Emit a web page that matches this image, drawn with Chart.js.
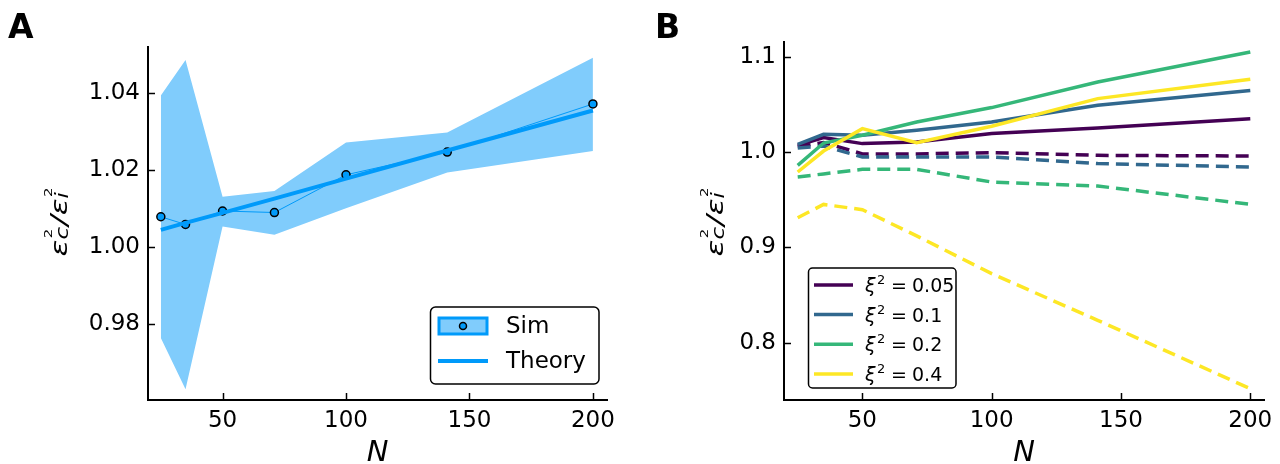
<!DOCTYPE html>
<html><head><meta charset="utf-8">
<script src="https://cdn.jsdelivr.net/npm/chart.js@4/dist/chart.umd.min.js"></script>
<style>
html,body{margin:0;padding:0;background:#fff;}
#wrap{position:relative;width:1280px;height:464px;overflow:hidden;}
canvas{position:absolute;top:0;}
</style></head><body>
<div id="wrap"><canvas id="cA" width="640" height="464" style="left:0"></canvas><canvas id="cB" width="640" height="464" style="left:640px"></canvas></div>
<script>
// ---------- DATA ----------
const N = [25, 35, 50, 71, 100, 141, 200];
const xTicks = [50, 100, 150, 200];
// Panel A
const simMean  = [1.0079, 1.0059, 1.0094, 1.0090, 1.0188, 1.0247, 1.0372];
const simUpper = [1.0394, 1.0486, 1.0131, 1.0146, 1.0272, 1.0298, 1.0492];
const simLower = [0.9764, 0.9631, 1.0054, 1.0032, 1.0101, 1.0194, 1.0250];
const theory   = [1.0045, 1.0063, 1.0089, 1.0126, 1.0178, 1.0251, 1.0355];
const yTicksA = [0.98, 1.00, 1.02, 1.04];
const legendA = ['Sim', 'Theory'];
// Panel B
const xi2Labels = ['0.05', '0.1', '0.2', '0.4'];
const solid005 = [1.0070, 1.0151, 1.0088, 1.0105, 1.0193, 1.0252, 1.0350];
const solid01  = [1.0081, 1.0186, 1.0175, 1.0228, 1.0315, 1.0490, 1.0644];
const solid02  = [0.9860, 1.0094, 1.0175, 1.0315, 1.0466, 1.0735, 1.1049];
const solid04  = [0.9790, 1.0010, 1.0245, 1.0098, 1.0270, 1.0560, 1.0763];
const dash005  = [1.0055, 1.0100, 0.9980, 0.9980, 0.9993, 0.9965, 0.9958];
const dash01   = [1.0042, 1.0063, 0.9948, 0.9948, 0.9948, 0.9878, 0.9843];
const dash02   = [0.9738, 0.9770, 0.9818, 0.9818, 0.9685, 0.9643, 0.9451];
const dash04   = [0.9310, 0.9450, 0.9395, 0.9120, 0.8724, 0.8234, 0.7517];
const yTicksB = [0.8, 0.9, 1.0, 1.1];

// ---------- STYLE ----------
const BLUE = '#009AFA', BAND = '#80CCFC';
const VIR = ['#440154', '#31688E', '#35B779', '#FDE725'];
const FONT = '"DejaVu Sans", Verdana, sans-serif';

const pts = arr => N.map((x, i) => ({x, y: arr[i]}));

function xScale(min, max) {
  return {
    type: 'linear', min, max,
    afterBuildTicks: s => { s.ticks = xTicks.map(v => ({value: v})); },
    afterFit: s => { s.height = 64; },
    grid: {display: true, drawOnChartArea: false, drawTicks: false},
    border: {display: true, color: '#000', width: 2},
    ticks: {color: '#000', font: {family: FONT, size: 23}, padding: 7, maxRotation: 0, autoSkip: false,
            callback: v => String(v)}
  };
}
function yScale(min, max, ticks, dec, width) {
  return {
    type: 'linear', min, max,
    afterBuildTicks: s => { s.ticks = ticks.map(v => ({value: v})); },
    afterFit: s => { s.width = width; },
    grid: {display: true, drawOnChartArea: false, drawTicks: false},
    border: {display: true, color: '#000', width: 2},
    ticks: {color: '#000', font: {family: FONT, size: 23}, padding: 8, autoSkip: false,
            callback: v => Number(v).toFixed(dec)}
  };
}

function drawInwardTicks(chart) {
  const ctx = chart.ctx, a = chart.chartArea;
  ctx.save(); ctx.strokeStyle = '#000'; ctx.lineWidth = 1.5;
  const xs = chart.scales.x, ys = chart.scales.y;
  xs.ticks.forEach(t => { const p = Math.round(xs.getPixelForValue(t.value)) + 0.5;
    ctx.beginPath(); ctx.moveTo(p, a.bottom); ctx.lineTo(p, a.bottom - 7); ctx.stroke(); });
  ys.ticks.forEach(t => { const p = Math.round(ys.getPixelForValue(t.value)) + 0.5;
    ctx.beginPath(); ctx.moveTo(a.left, p); ctx.lineTo(a.left + 7, p); ctx.stroke(); });
  ctx.restore();
}

function drawYLabel(ctx, cx, cy) {
  const big = 'italic 23px ' + FONT, sub = 'italic 17px ' + FONT, sup = '11px ' + FONT;
  const SX = 1.35;
  const parts = [{t: 'ε'}, {s: 'c', p: '2'}, {t: '/'}, {t: 'ε'}, {s: 'i', p: '2'}];
  ctx.save();
  ctx.translate(cx, cy); ctx.rotate(-Math.PI / 2); ctx.scale(SX, 1);
  ctx.fillStyle = '#000'; ctx.textBaseline = 'alphabetic'; ctx.textAlign = 'left';
  const widths = parts.map(pt => {
    if (pt.t) { ctx.font = big; return ctx.measureText(pt.t).width; }
    ctx.font = sub; const w1 = ctx.measureText(pt.s).width;
    ctx.font = sup; const w2 = ctx.measureText(pt.p).width;
    return Math.max(w1, w2) + 1;
  });
  const total = widths.reduce((a, b) => a + b, 0);
  let x = -total / 2;
  parts.forEach((pt, i) => {
    if (pt.t) { ctx.font = big; ctx.fillText(pt.t, x, 0); }
    else { ctx.font = sub; ctx.fillText(pt.s, x, 1); ctx.font = sup; ctx.fillText(pt.p, x + 1, -15); }
    x += widths[i];
  });
  ctx.restore();
}

function drawText(ctx, txt, x, y, font, align, base) {
  ctx.save(); ctx.fillStyle = '#000'; ctx.font = font;
  ctx.textAlign = align || 'left'; ctx.textBaseline = base || 'alphabetic';
  ctx.fillText(txt, x, y); ctx.restore();
}

function roundBox(ctx, x, y, w, h, r) {
  ctx.save(); ctx.beginPath(); ctx.roundRect(x, y, w, h, r);
  ctx.fillStyle = '#fff'; ctx.fill(); ctx.strokeStyle = '#000'; ctx.lineWidth = 1.5; ctx.stroke(); ctx.restore();
}

// ---------- CHART A ----------
const decorA = {
  id: 'decorA',
  afterDraw(chart) {
    const ctx = chart.ctx, a = chart.chartArea;
    drawInwardTicks(chart);
    drawText(ctx, 'A', 8, 38, 'bold 33px ' + FONT);
    drawText(ctx, 'N', (a.left + a.right) / 2, 461, 'italic 29px ' + FONT, 'center');
    drawYLabel(ctx, 67, 222);
    // legend
    roundBox(ctx, 430.5, 307, 168.5, 77, 5);
    ctx.save();
    ctx.fillStyle = BAND; ctx.fillRect(439, 318, 48, 16);
    ctx.strokeStyle = BLUE; ctx.lineWidth = 3; ctx.strokeRect(439, 318, 48, 16);
    ctx.beginPath(); ctx.arc(463, 326, 3.5, 0, Math.PI * 2);
    ctx.fillStyle = BLUE; ctx.fill(); ctx.strokeStyle = '#000'; ctx.lineWidth = 1.5; ctx.stroke();
    ctx.beginPath(); ctx.moveTo(438, 361); ctx.lineTo(488, 361); ctx.strokeStyle = BLUE; ctx.lineWidth = 4; ctx.stroke();
    ctx.restore();
    drawText(ctx, legendA[0], 506, 327, '23px ' + FONT, 'left', 'middle');
    drawText(ctx, legendA[1], 506, 362, '23px ' + FONT, 'left', 'middle');
  }
};

new Chart(document.getElementById('cA'), {
  type: 'line',
  data: {
    datasets: [
      {label: 'upper', data: pts(simUpper), borderWidth: 0, pointRadius: 0, backgroundColor: BAND, fill: '+1', order: 3},
      {label: 'lower', data: pts(simLower), borderWidth: 0, pointRadius: 0, fill: false, order: 4},
      {label: 'Sim', data: pts(simMean), borderColor: BLUE, borderWidth: 1, pointRadius: 4,
       pointBackgroundColor: BLUE, pointBorderColor: '#000', pointBorderWidth: 1.5, fill: false, order: 2},
      {label: 'Theory', data: pts(theory), borderColor: BLUE, borderWidth: 4, pointRadius: 0, fill: false, order: 1}
    ]
  },
  options: {
    responsive: false, animation: false, devicePixelRatio: 1,
    layout: {padding: {left: 0, right: 33, top: 47, bottom: 0}},
    elements: {line: {tension: 0}},
    plugins: {legend: {display: false}, tooltip: {enabled: false}},
    scales: {x: xScale(19.8, 205.7), y: yScale(0.9603, 1.0520, yTicksA, 2, 148)}
  },
  plugins: [decorA]
});

// ---------- CHART B ----------
const decorB = {
  id: 'decorB',
  afterDraw(chart) {
    const ctx = chart.ctx, a = chart.chartArea;
    drawInwardTicks(chart);
    drawText(ctx, 'B', 15, 38, 'bold 33px ' + FONT);
    drawText(ctx, 'N', (a.left + a.right) / 2, 461, 'italic 29px ' + FONT, 'center');
    drawYLabel(ctx, 83, 222);
    roundBox(ctx, 168.5, 268, 147.5, 120, 4);
    const rows = [285, 314.5, 344.3, 374];
    xi2Labels.forEach((lab, i) => {
      const y = rows[i];
      ctx.save(); ctx.beginPath(); ctx.moveTo(174, y); ctx.lineTo(213, y);
      ctx.strokeStyle = VIR[i]; ctx.lineWidth = 3.5; ctx.stroke(); ctx.restore();
      drawText(ctx, 'ξ', 225, y + 7, 'italic 19px ' + FONT);
      drawText(ctx, '2', 237, y - 1, '13px ' + FONT);
      drawText(ctx, '=', 251, y + 7, '19px ' + FONT);
      drawText(ctx, lab, 272, y + 7, '19px ' + FONT);
    });
  }
};

const solids = [solid005, solid01, solid02, solid04];
const dashes = [dash005, dash01, dash02, dash04];
const dsB = [];
solids.forEach((s, i) => {
  dsB.push({label: 'ξ² = ' + xi2Labels[i], data: pts(s), borderColor: VIR[i], borderWidth: 3.5, pointRadius: 0, fill: false, order: 20 - 2 * i});
  dsB.push({label: 'dash ' + xi2Labels[i], data: pts(dashes[i]), borderColor: VIR[i], borderWidth: 3.5, borderDash: [13, 7], pointRadius: 0, fill: false, order: 19 - 2 * i});
});

new Chart(document.getElementById('cB'), {
  type: 'line',
  data: {datasets: dsB},
  options: {
    responsive: false, animation: false, devicePixelRatio: 1,
    layout: {padding: {left: 0, right: 16, top: 42, bottom: 0}},
    elements: {line: {tension: 0}},
    plugins: {legend: {display: false}, tooltip: {enabled: false}},
    scales: {x: xScale(19.7, 205.3), y: yScale(0.7398, 1.1154, yTicksB, 1, 144)}
  },
  plugins: [decorB]
});
</script>
</body></html>
